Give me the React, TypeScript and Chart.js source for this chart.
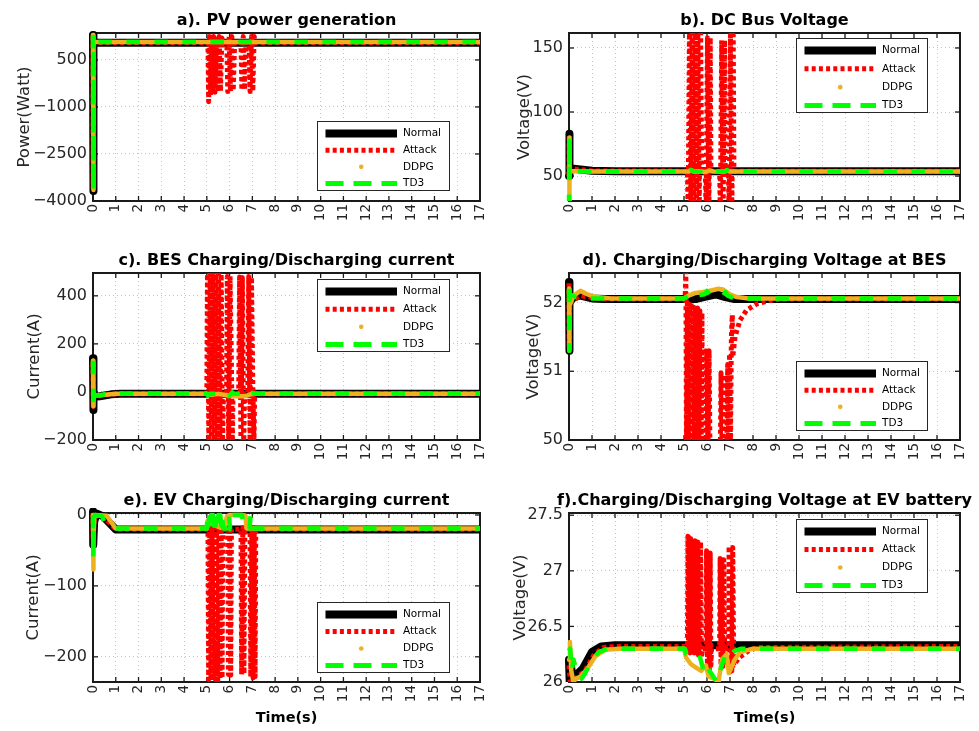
import React, { useEffect, useRef } from 'react';
import { Chart, registerables } from 'chart.js';

Chart.register(...registerables);

const FONT = "'DejaVu Sans', 'Liberation Sans', Arial, sans-serif";
const W = 979;
const H = 731;

type Pt = [number, number];

// ---------- shared axis data ----------
const TIME_TICKS = [0, 1, 2, 3, 4, 5, 6, 7, 8, 9, 10, 11, 12, 13, 14, 15, 16, 17];
const TIME_TICK_LABELS = ['0', '1', '2', '3', '4', '5', '6', '7', '8', '9', '10', '11', '12', '13', '14', '15', '16', '17'];
const SERIES_NAMES = ['Normal', 'Attack', 'DDPG', 'TD3'];

// ---------- a) PV power generation ----------
const PV_Y_TICKS = [-4000, -2500, -1000, 500];
const PV_Y_LABELS = ['\u22124000', '\u22122500', '\u22121000', '500'];
const PV_NORMAL: Pt[] = [[0, 1300], [0.01, -3680], [0.03, 1045], [17, 1045]];
const PV_ATTACK: Pt[] = [
  [0, 1250], [0.01, -3600], [0.03, 1045], [5.05, 1045], [5.08, -830], [5.12, 1250], [5.16, -620],
  [5.2, 1250], [5.25, -560], [5.3, 1250], [5.36, -530], [5.42, 1250], [5.48, -510], [5.54, 1250],
  [5.6, -500], [5.66, 1200], [5.72, 1045], [5.88, 1045], [5.92, -510], [5.98, 1250], [6.04, -500],
  [6.1, 1250], [6.16, -480], [6.22, 1045], [6.5, 1045], [6.54, -460], [6.6, 1250], [6.66, -450],
  [6.72, 1045], [6.86, 1045], [6.9, -510], [6.96, 1250], [7.02, -500], [7.08, 1250], [7.12, 1045], [17, 1045],
];
const PV_DDPG: Pt[] = [[0, 1300], [0.01, -3650], [0.03, 1075], [17, 1075]];
const PV_TD3: Pt[] = [[0, 1300], [0.01, -3650], [0.03, 1075], [17, 1075]];

// ---------- b) DC bus voltage ----------
const BUS_Y_TICKS = [50, 100, 150];
const BUS_Y_LABELS = ['50', '100', '150'];
const BUS_NORMAL: Pt[] = [[0, 50], [0.01, 83], [0.03, 56], [0.3, 55.5], [1, 54.2], [2, 53.8], [17, 53.8]];
const BUS_ATTACK: Pt[] = [
  [0, 50], [0.01, 82], [0.03, 56], [1, 54], [5.15, 53.8], [5.18, 20], [5.24, 170], [5.3, 20], [5.36, 170],
  [5.42, 20], [5.48, 170], [5.54, 20], [5.6, 170], [5.66, 20], [5.72, 170], [5.77, 53.8],
  [5.93, 53.8], [5.96, 20], [6.02, 158], [6.08, 20], [6.14, 158], [6.17, 53.8],
  [6.55, 53.8], [6.58, 20], [6.64, 156], [6.7, 20], [6.76, 156], [6.79, 53.8],
  [6.93, 53.8], [6.96, 20], [7.02, 160], [7.08, 20], [7.14, 160], [7.17, 53.8], [17, 53.8],
];
const BUS_DDPG: Pt[] = [
  [0, 25], [0.01, 80], [0.03, 54], [1, 53.6], [5.2, 53.6], [5.3, 54.6], [5.45, 53.4], [5.6, 53.8],
  [5.95, 53.2], [6.1, 54.4], [6.3, 53.5], [6.75, 53.3], [6.85, 54.5], [7.0, 53.6], [17, 53.6],
];
const BUS_TD3: Pt[] = [
  [0, 25], [0.01, 80], [0.03, 54], [1, 53.6], [5.2, 53.6], [5.3, 54.8], [5.4, 53.6], [6.0, 53.6],
  [6.05, 54.6], [6.15, 53.6], [6.8, 53.6], [6.88, 54.6], [6.98, 53.6], [17, 53.6],
];

// ---------- c) BES charging/discharging current ----------
const BESI_Y_TICKS = [-200, 0, 200, 400];
const BESI_Y_LABELS = ['\u2212200', '0', '200', '400'];
const BESI_NORMAL: Pt[] = [[0, 140], [0.01, -75], [0.03, -20], [0.3, -18], [0.8, -10], [1.2, -8], [17, -8]];
const BESI_ATTACK: Pt[] = [
  [0, 120], [0.01, -60], [0.03, -20], [0.8, -10], [1.2, -8], [5.0, -8], [5.03, 520], [5.09, -220],
  [5.15, 520], [5.21, -220], [5.27, 520], [5.33, -220], [5.39, 520], [5.45, -220], [5.51, 520],
  [5.57, -220], [5.63, 520], [5.69, -220], [5.73, -8], [5.87, -8], [5.9, 480], [5.96, -220], [6.02, 482],
  [6.08, 120], [6.12, -220], [6.15, -8], [6.4, -8], [6.44, 478], [6.5, -220], [6.56, 476], [6.62, -220],
  [6.66, -8], [6.8, -8], [6.84, 480], [6.9, -220], [6.96, 478], [7.02, 30], [7.07, -220], [7.1, -8], [17, -8],
];
const BESI_DDPG: Pt[] = [
  [0, 130], [0.01, -60], [0.03, -15], [0.3, -14], [1, -8], [5.0, -8], [5.2, -12], [5.5, -8], [5.9, -14],
  [6.2, -18], [6.7, -18], [6.9, -10], [7.1, -8], [17, -8],
];
const BESI_TD3: Pt[] = [
  [0, 130], [0.01, -60], [0.03, -10], [0.2, -15], [0.5, -10], [1, -8], [5.0, -8], [5.05, -16], [5.15, -8],
  [5.9, -8], [5.95, -18], [6.05, -10], [6.12, -2], [6.2, -8], [6.85, -8], [6.9, -16], [7.0, -4], [7.08, -8], [17, -8],
];

// ---------- d) BES voltage ----------
const BESV_Y_TICKS = [50, 51, 52];
const BESV_Y_LABELS = ['50', '51', '52'];
const BESV_NORMAL: Pt[] = [
  [0, 52.3], [0.01, 51.3], [0.03, 52.0], [0.2, 52.08], [0.5, 52.1], [1.0, 52.06], [1.5, 52.05], [5.5, 52.05],
  [6.0, 52.09], [6.4, 52.12], [6.8, 52.08], [7.2, 52.05], [17, 52.05],
];
const BESV_ATTACK: Pt[] = [
  [0, 52.28], [0.01, 51.35], [0.03, 52.0], [0.5, 52.1], [1.5, 52.05], [5.05, 52.05], [5.08, 52.5],
  [5.11, 49.8], [5.15, 52.0], [5.19, 49.8], [5.23, 52.02], [5.27, 49.8], [5.31, 52.0], [5.35, 49.8],
  [5.39, 51.98], [5.44, 49.8], [5.49, 51.93], [5.54, 49.8], [5.59, 51.92], [5.64, 49.8], [5.69, 51.88],
  [5.74, 49.8], [5.78, 51.85], [5.81, 49.8],
  [5.96, 49.8], [5.99, 51.33], [6.04, 49.8], [6.09, 51.3], [6.13, 49.8], [6.58, 49.8], [6.61, 50.98],
  [6.66, 49.8], [6.71, 50.95], [6.75, 49.8], [6.86, 49.8], [6.9, 51.1], [6.94, 49.8], [6.98, 51.25],
  [7.02, 49.9], [7.06, 51.5], [7.1, 51.82], [7.12, 51.21], [7.22, 51.5], [7.43, 51.74], [7.72, 51.89],
  [8.16, 51.98], [8.74, 52.03], [9.2, 52.05], [17, 52.05],
];
const BESV_DDPG: Pt[] = [
  [0, 52.2], [0.01, 51.3], [0.03, 51.95], [0.2, 52.1], [0.5, 52.17], [0.8, 52.12], [1.2, 52.08], [1.8, 52.06],
  [5.0, 52.06], [5.2, 52.1], [5.5, 52.14], [6.0, 52.16], [6.5, 52.2], [6.7, 52.19], [7.0, 52.12], [7.3, 52.08],
  [7.8, 52.06], [17, 52.06],
];
const BESV_TD3: Pt[] = [
  [0, 52.2], [0.01, 51.3], [0.03, 52.12], [0.3, 52.08], [1, 52.06], [5.0, 52.06], [5.2, 52.1], [5.3, 52.14],
  [5.4, 52.1], [5.9, 52.12], [6.0, 52.17], [6.1, 52.12], [6.7, 52.1], [6.8, 52.15], [6.9, 52.1], [7.2, 52.06], [17, 52.06],
];

// ---------- e) EV charging/discharging current ----------
const EVI_Y_TICKS = [-200, -100, 0];
const EVI_Y_LABELS = ['\u2212200', '\u2212100', '0'];
const EVI_NORMAL: Pt[] = [[0, 5], [0.01, -42], [0.05, -10], [0.15, 2], [0.45, -2], [1.0, -20.5], [17, -20.5]];
const EVI_ATTACK: Pt[] = [
  [0, 3], [0.01, -35], [0.05, -5], [0.2, 0], [0.45, -2], [1.0, -20], [5.05, -20], [5.08, -232], [5.13, -18],
  [5.18, -233], [5.23, -18], [5.28, -233], [5.33, -18], [5.38, -232], [5.43, -18], [5.48, -233], [5.53, -18],
  [5.58, -232], [5.63, -18], [5.67, -230], [5.7, -20], [5.92, -20], [5.95, -225],
  [6.0, -18], [6.05, -226], [6.08, -20], [6.5, -20], [6.53, -225], [6.58, -18], [6.63, -224], [6.67, -20],
  [6.9, -20], [6.93, -228], [6.98, -18], [7.03, -230], [7.08, -18], [7.12, -228], [7.15, -20], [17, -20],
];
const EVI_DDPG: Pt[] = [
  [0, 0], [0.01, -77], [0.03, -30], [0.06, -5], [0.1, 0], [0.6, -1], [1.0, -19], [5.0, -19], [5.03, -8],
  [5.2, -12], [5.4, -15], [5.6, -18], [5.8, -16], [5.88, -2], [6.0, 0], [6.55, 0], [6.7, -1], [6.74, -19], [17, -19],
];
const EVI_TD3: Pt[] = [
  [0, 0], [0.01, -60], [0.03, -20], [0.08, 0], [0.4, -2], [0.5, -10], [1.0, -19], [5.0, -19], [5.03, 0],
  [5.07, -15], [5.11, 0], [5.15, -15], [5.19, 0], [5.23, -15], [5.27, 0], [5.31, -15], [5.35, 0], [5.39, -15],
  [5.43, 0], [5.47, -15], [5.51, 0], [5.55, -15], [5.59, 0], [5.63, -15], [5.67, 0], [5.72, -19], [5.88, -19],
  [5.92, 0], [5.98, -2], [6.02, -20], [6.08, -19], [6.12, 0], [6.55, 0], [6.6, -19], [6.88, -19], [6.92, 0],
  [7.0, 0], [7.04, -19], [17, -19],
];

// ---------- f) EV battery voltage ----------
const EVV_Y_TICKS = [26, 26.5, 27, 27.5];
const EVV_Y_LABELS = ['26', '26.5', '27', '27.5'];
const EVV_NORMAL: Pt[] = [
  [0, 26.2], [0.03, 26.0], [0.08, 26.15], [0.15, 26.05], [0.3, 26.06], [0.6, 26.12], [1.0, 26.27], [1.4, 26.32],
  [2.0, 26.33], [17, 26.33],
];
const EVV_ATTACK: Pt[] = [
  [0, 26.15], [0.05, 26.0], [0.2, 26.02], [0.4, 26.05], [0.7, 26.1], [1.1, 26.25], [1.5, 26.31], [2.0, 26.32],
  [5.15, 26.32], [5.17, 27.31], [5.2, 26.27], [5.23, 27.3], [5.26, 26.26], [5.29, 27.29], [5.32, 26.26],
  [5.35, 27.29], [5.38, 26.25], [5.41, 27.28], [5.44, 26.26], [5.48, 27.27], [5.51, 26.25], [5.54, 27.27],
  [5.57, 26.24], [5.6, 27.26], [5.63, 26.24], [5.66, 27.26], [5.69, 26.23], [5.72, 27.26], [5.76, 26.22],
  [5.8, 26.3], [5.96, 26.3], [5.98, 27.18], [6.02, 26.12], [6.06, 27.17], [6.1, 26.1], [6.14, 27.16],
  [6.17, 26.15], [6.2, 26.3], [6.55, 26.3], [6.57, 27.11], [6.61, 26.15], [6.65, 27.1], [6.69, 26.14],
  [6.73, 27.1], [6.77, 26.15], [6.8, 26.3], [6.94, 26.3], [6.96, 27.22], [7.0, 26.09], [7.04, 27.22],
  [7.08, 26.1], [7.12, 27.21], [7.16, 26.15], [7.4, 26.22], [7.8, 26.28], [8.2, 26.31], [17, 26.32],
];
const EVV_DDPG: Pt[] = [
  [0, 26.2], [0.04, 26.36], [0.1, 26.1], [0.19, 26.0], [0.3, 26.03], [0.5, 26.05], [0.8, 26.12], [1.14, 26.23],
  [1.57, 26.29], [2.2, 26.3], [5.0, 26.3], [5.09, 26.22], [5.3, 26.16], [5.52, 26.13], [5.75, 26.1], [5.95, 26.15],
  [6.07, 26.05], [6.3, 26.03], [6.5, 26.0], [6.65, 26.2], [6.85, 26.25], [6.95, 26.08], [7.2, 26.2], [7.45, 26.27],
  [8, 26.3], [17, 26.3],
];
const EVV_TD3: Pt[] = [
  [0, 26.28], [0.05, 26.3], [0.12, 26.1], [0.2, 26.2], [0.33, 26.1], [0.55, 26.03], [0.7, 26.08], [1.0, 26.2],
  [1.3, 26.27], [1.7, 26.3], [5.0, 26.3], [5.05, 26.3], [5.1, 26.25], [5.3, 26.24], [5.5, 26.2], [5.7, 26.22],
  [5.9, 26.06], [6.05, 26.12], [6.3, 26.04], [6.45, 26.0], [6.6, 26.12], [6.8, 26.25], [6.95, 26.22], [7.2, 26.28],
  [7.5, 26.3], [17, 26.3],
];

// ---------- panel layout / styling ----------
interface Rect { l: number; t: number; r: number; b: number }
interface Box { x: number; y: number; w: number; h: number }
interface PanelCfg {
  id: string; title: string; yTitle: string; plot: Rect; yMin: number; yMax: number;
  yTicks: number[]; yLabels: string[]; yTitleX: number; tickSize: number; legend: Box; xTitle: boolean;
  series: Pt[][];
}

const PANELS: PanelCfg[] = [
  { id: 'a', title: 'a). PV power generation', yTitle: 'Power(Watt)', plot: { l: 93, t: 33, r: 480, b: 201 },
    yMin: -4000, yMax: 1360, yTicks: PV_Y_TICKS, yLabels: PV_Y_LABELS, yTitleX: 25, tickSize: 16,
    legend: { x: 317, y: 121, w: 133, h: 70 }, xTitle: false, series: [PV_NORMAL, PV_ATTACK, PV_DDPG, PV_TD3] },
  { id: 'b', title: 'b). DC Bus Voltage', yTitle: 'Voltage(V)', plot: { l: 569, t: 33, r: 960, b: 201 },
    yMin: 30.5, yMax: 161.7, yTicks: BUS_Y_TICKS, yLabels: BUS_Y_LABELS, yTitleX: 525, tickSize: 16,
    legend: { x: 796, y: 38, w: 132, h: 75 }, xTitle: false, series: [BUS_NORMAL, BUS_ATTACK, BUS_DDPG, BUS_TD3] },
  { id: 'c', title: 'c). BES Charging/Discharging current', yTitle: 'Current(A)', plot: { l: 93, t: 273, r: 480, b: 440 },
    yMin: -200, yMax: 495, yTicks: BESI_Y_TICKS, yLabels: BESI_Y_LABELS, yTitleX: 35, tickSize: 16,
    legend: { x: 317, y: 279, w: 133, h: 73 }, xTitle: false, series: [BESI_NORMAL, BESI_ATTACK, BESI_DDPG, BESI_TD3] },
  { id: 'd', title: 'd). Charging/Discharging Voltage at BES', yTitle: 'Voltage(V)', plot: { l: 569, t: 273, r: 960, b: 440 },
    yMin: 50, yMax: 52.43, yTicks: BESV_Y_TICKS, yLabels: BESV_Y_LABELS, yTitleX: 534, tickSize: 16,
    legend: { x: 796, y: 361, w: 132, h: 70 }, xTitle: false, series: [BESV_NORMAL, BESV_ATTACK, BESV_DDPG, BESV_TD3] },
  { id: 'e', title: 'e). EV Charging/Discharging current', yTitle: 'Current(A)', plot: { l: 93, t: 513, r: 480, b: 682 },
    yMin: -235.5, yMax: 2.8, yTicks: EVI_Y_TICKS, yLabels: EVI_Y_LABELS, yTitleX: 34, tickSize: 16,
    legend: { x: 317, y: 602, w: 133, h: 71 }, xTitle: true, series: [EVI_NORMAL, EVI_ATTACK, EVI_DDPG, EVI_TD3] },
  { id: 'f', title: 'f).Charging/Discharging Voltage at EV battery', yTitle: 'Voltage(V)', plot: { l: 569, t: 513, r: 960, b: 682 },
    yMin: 26, yMax: 27.52, yTicks: EVV_Y_TICKS, yLabels: EVV_Y_LABELS, yTitleX: 521, tickSize: 16,
    legend: { x: 796, y: 519, w: 132, h: 74 }, xTitle: true, series: [EVV_NORMAL, EVV_ATTACK, EVV_DDPG, EVV_TD3] },
];

const C_NORMAL = '#000000';
const C_ATTACK = '#ff0000';
const C_DDPG = '#edb120';
const C_TD3 = '#00ff00';
const TEXT = '#262626';
const Y_TITLE_SIZE = 16.5;

const STYLES = [
  { borderColor: C_NORMAL, borderWidth: 8, borderDash: [] as number[], borderCapStyle: 'round', borderJoinStyle: 'round', order: 4 },
  { borderColor: C_ATTACK, borderWidth: 5, borderDash: [4, 3.2], borderCapStyle: 'butt', borderJoinStyle: 'round', order: 3 },
  { borderColor: C_DDPG, borderWidth: 4.5, borderDash: [] as number[], borderCapStyle: 'round', borderJoinStyle: 'round', order: 2 },
  { borderColor: C_TD3, borderWidth: 4.5, borderDash: [13.5, 14.5], borderCapStyle: 'butt', borderJoinStyle: 'round', order: 1 },
];

function line(ctx: CanvasRenderingContext2D, x1: number, y1: number, x2: number, y2: number) {
  ctx.beginPath();
  ctx.moveTo(x1, y1);
  ctx.lineTo(x2, y2);
  ctx.stroke();
}

function decorPlugin(cfg: PanelCfg) {
  return {
    id: 'decor_' + cfg.id,
    beforeDatasetsDraw(chart: any) {
      const { ctx, chartArea: a, scales } = chart;
      const x = scales.x;
      const y = scales.y;
      ctx.save();
      ctx.strokeStyle = '#1a1a1a';
      ctx.lineWidth = 1.3;
      for (const v of TIME_TICKS) {
        const px = x.getPixelForValue(v);
        line(ctx, px, a.bottom, px, a.bottom - 5);
        line(ctx, px, a.top, px, a.top + 5);
      }
      for (const v of cfg.yTicks) {
        const py = y.getPixelForValue(v);
        line(ctx, a.left, py, a.left + 5, py);
        line(ctx, a.right, py, a.right - 5, py);
      }
      ctx.lineWidth = 2;
      ctx.strokeRect(a.left, a.top, a.right - a.left, a.bottom - a.top);
      ctx.restore();
    },
    afterDraw(chart: any) {
      const { ctx, chartArea: a, scales } = chart;
      const x = scales.x;
      ctx.save();
      // title
      ctx.fillStyle = '#000';
      ctx.font = `bold 16px ${FONT}`;
      ctx.textAlign = 'center';
      ctx.textBaseline = 'alphabetic';
      ctx.fillText(cfg.title, (a.left + a.right) / 2, a.top - 8);
      // rotated x tick labels
      ctx.fillStyle = TEXT;
      ctx.font = `13.5px ${FONT}`;
      ctx.textAlign = 'right';
      ctx.textBaseline = 'middle';
      TIME_TICKS.forEach((v, i) => {
        const px = x.getPixelForValue(v);
        ctx.save();
        ctx.translate(px, a.bottom + 3);
        ctx.rotate(-Math.PI / 2);
        ctx.fillText(TIME_TICK_LABELS[i], 0, 0);
        ctx.restore();
      });
      // x title
      if (cfg.xTitle) {
        ctx.fillStyle = '#000';
        ctx.font = `bold 14.5px ${FONT}`;
        ctx.textAlign = 'center';
        ctx.textBaseline = 'alphabetic';
        ctx.fillText('Time(s)', (a.left + a.right) / 2, 722);
      }
      // legend
      const L = cfg.legend;
      ctx.fillStyle = '#fff';
      ctx.fillRect(L.x, L.y, L.w, L.h);
      ctx.strokeStyle = '#262626';
      ctx.lineWidth = 1;
      ctx.strokeRect(L.x + 0.5, L.y + 0.5, L.w - 1, L.h - 1);
      const step = (L.h - 20) / 3;
      SERIES_NAMES.forEach((name, i) => {
        const cy = L.y + 12.5 + i * step;
        const x1 = L.x + 8.5;
        const x2 = L.x + 80;
        ctx.save();
        if (i === 0) {
          ctx.strokeStyle = C_NORMAL; ctx.lineWidth = 8; ctx.setLineDash([]);
          line(ctx, x1, cy, x2, cy);
        } else if (i === 1) {
          ctx.strokeStyle = C_ATTACK; ctx.lineWidth = 5; ctx.setLineDash([4, 3.2]);
          line(ctx, x1, cy, x2, cy);
        } else if (i === 2) {
          ctx.fillStyle = C_DDPG;
          ctx.beginPath();
          ctx.arc((x1 + x2) / 2, cy, 2.3, 0, Math.PI * 2);
          ctx.fill();
        } else {
          ctx.strokeStyle = C_TD3; ctx.lineWidth = 5; ctx.setLineDash([18, 10]);
          line(ctx, x1, cy, x2, cy);
        }
        ctx.restore();
        ctx.fillStyle = '#000';
        ctx.font = `10.5px ${FONT}`;
        ctx.textAlign = 'left';
        ctx.textBaseline = 'middle';
        ctx.fillText(name, L.x + 86, cy);
      });
      ctx.restore();
    },
  };
}

function Panel({ cfg }: { cfg: PanelCfg }) {
  const ref = useRef<HTMLCanvasElement | null>(null);
  useEffect(() => {
    const canvas = ref.current;
    if (!canvas) return;
    const lineH = Y_TITLE_SIZE * 1.2;
    const padL = cfg.yTitleX - lineH / 2;
    const datasets = cfg.series.map((pts, i) => ({
      label: SERIES_NAMES[i],
      data: pts.map(([t, v]) => ({ x: t, y: v })),
      showLine: true,
      pointRadius: 0,
      pointHoverRadius: 0,
      tension: 0,
      fill: false,
      clip: i === 1 ? { left: 8, top: 0, right: 0, bottom: 0 } : { left: 8, top: 5, right: 0, bottom: 0 },
      ...STYLES[i],
    }));
    const chart = new Chart(canvas, {
      type: 'scatter',
      data: { datasets: datasets as any },
      options: {
        responsive: false,
        maintainAspectRatio: false,
        animation: false,
        events: [],
        layout: { padding: { left: padL, top: cfg.plot.t, right: W - cfg.plot.r, bottom: 0 } },
        plugins: { legend: { display: false }, tooltip: { enabled: false }, title: { display: false } },
        scales: {
          x: {
            type: 'linear', min: 0, max: 17,
            afterBuildTicks: (s: any) => { s.ticks = TIME_TICKS.map((v) => ({ value: v })); },
            afterFit: (s: any) => { s.height = H - cfg.plot.b; },
            ticks: { display: false },
            grid: { color: '#c4c4c4', lineWidth: 1, drawTicks: false },
            border: { display: false, dash: [1, 3] },
          },
          y: {
            type: 'linear', min: cfg.yMin, max: cfg.yMax,
            afterBuildTicks: (s: any) => { s.ticks = cfg.yTicks.map((v) => ({ value: v })); },
            afterFit: (s: any) => { s.width = cfg.plot.l - padL; },
            ticks: {
              color: TEXT, padding: 6, font: { size: cfg.tickSize, family: FONT },
              callback: (v: any) => { const k = cfg.yTicks.indexOf(Number(v)); return k >= 0 ? cfg.yLabels[k] : ''; },
            },
            title: { display: true, text: cfg.yTitle, color: TEXT, padding: 0, font: { size: Y_TITLE_SIZE, family: FONT } },
            grid: { color: '#c4c4c4', lineWidth: 1, drawTicks: false },
            border: { display: false, dash: [1, 3] },
          },
        },
      } as any,
      plugins: [decorPlugin(cfg)],
    });
    return () => chart.destroy();
  }, [cfg]);
  return (
    <canvas
      ref={ref}
      width={W}
      height={H}
      style={{ position: 'absolute', left: 0, top: 0, width: W, height: H }}
    />
  );
}

export default function App() {
  Chart.defaults.font.family = FONT;
  return (
    <div style={{ position: 'absolute', left: 0, top: 0, width: W, height: H, background: '#fff', overflow: 'hidden' }}>
      {PANELS.map((p) => (
        <Panel key={p.id} cfg={p} />
      ))}
    </div>
  );
}
